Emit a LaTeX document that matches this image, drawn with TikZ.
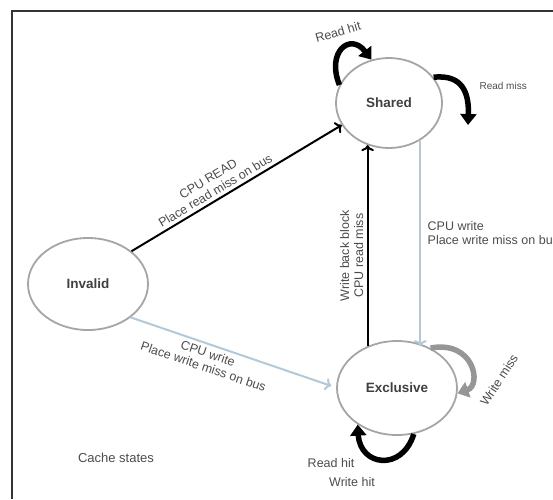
\documentclass[tikz,border=0pt]{standalone}
\usepackage{fontspec}
\setmainfont{Liberation Sans}
\usepackage{tikz}
\usetikzlibrary{shapes.geometric}
\usetikzlibrary{arrows.meta}
\usepackage{xcolor}

\definecolor{stategray}{RGB}{165,165,165}
\definecolor{busblue}{RGB}{180,200,214}
\definecolor{missgray}{RGB}{150,150,150}

\tikzset{
  state/.style={ellipse, draw=stategray, line width=1.8pt, inner sep=0pt,
    font=\fontsize{13.5}{14}\selectfont\bfseries, text=black!75},
  lbl/.style={font=\fontsize{12.5}{14}\selectfont, text=black!70, align=center},
  bigloop/.style={line width=5.5pt, -{Triangle[length=11pt,width=16pt]}},
}

\begin{document}
\begin{tikzpicture}[x=1pt,y=-1pt]
\useasboundingbox (0,0) rectangle (553,499);
\draw [line width=2.5pt, black!80] (12,499) -- (12,11) -- (553,11);

\node [state, minimum width=106pt, minimum height=90pt] (shared) at (389,103) {Shared};
\node [state, minimum width=120pt, minimum height=92pt] (invalid) at (88,284) {Invalid};
\node [state, minimum width=120pt, minimum height=94pt] (exclusive) at (397,388) {Exclusive};

\coordinate (rmiss) at (468,125);

% transitions between states
\draw [line width=2pt] [->] (invalid.37) -- (shared.205)
  node [lbl, pos=0.42, sloped, above] {CPU READ\\Place read miss on bus};
\draw [line width=2pt, busblue] [->] (invalid.322) -- ([xshift=-5pt]exclusive.178)
  node [lbl, pos=0.4, sloped, below] {CPU write\\Place write miss on bus};
\draw [line width=2pt] [->] (exclusive.125) -- (exclusive.125 |- shared.243)
  node [lbl, pos=0.45, sloped, above] {Write back block\\CPU read miss};
\draw [line width=2pt, busblue] [->] (shared.310) -- ([yshift=-6pt]shared.310 |- exclusive.north)
  node [lbl, pos=0.45, right, align=left, xshift=3pt] {CPU write\\Place write miss on bus};

% self loops
\draw [bigloop] (shared.160) .. controls (326,52) and (350,32) .. (shared.112);
\node [lbl, rotate=16] (rhit) at (338,32) {Read hit};
\draw [bigloop] (shared.30) .. controls (464,74) and (469,95) .. (rmiss);
\node [lbl, font=\fontsize{10}{11}\selectfont, anchor=west] (rmisslbl) at (476,86) {Read miss};
\draw [bigloop, missgray] (exclusive.50) .. controls (474,340) and (482,385) .. (exclusive.355);
\node [lbl, rotate=57] (wmiss) at (499,380) {Write miss};
\draw [bigloop] (exclusive.290) .. controls (402,472) and (360,466) .. (exclusive.223);
\node [lbl] (rwhit1) at (331,463) {Read hit};
\node [lbl] (rwhit2) at (352,482) {Write hit};

\node [lbl, font=\fontsize{13}{14}\selectfont] (cstates) at (116,458) {Cache states};
\end{tikzpicture}
\end{document}
